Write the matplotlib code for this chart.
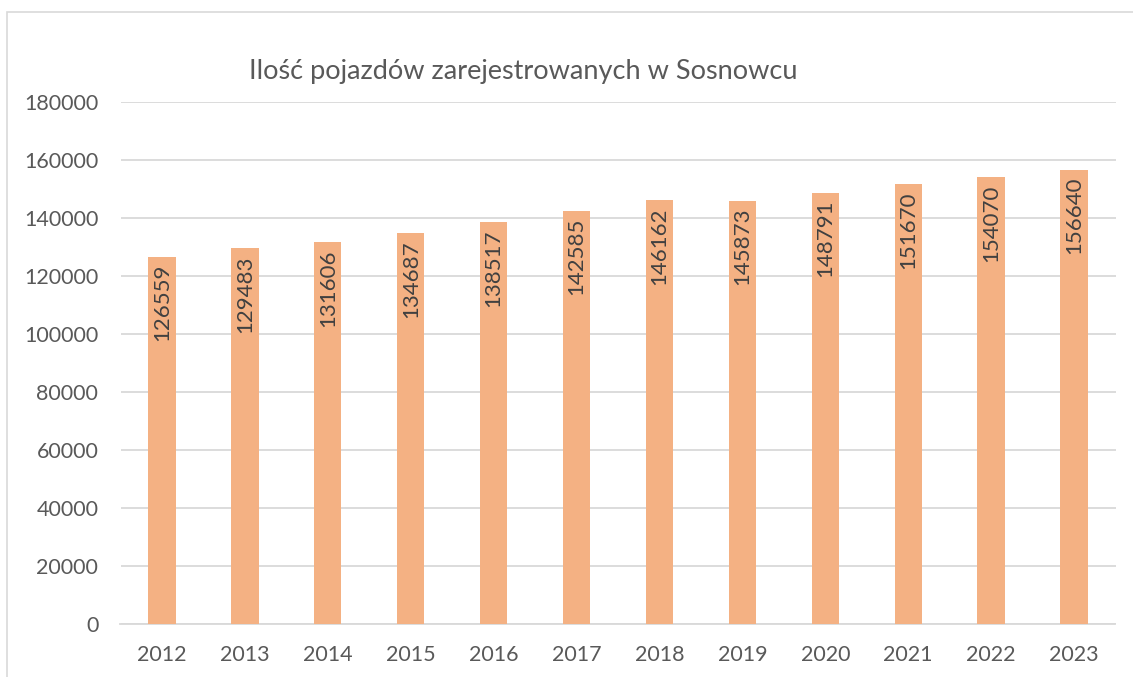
import matplotlib
matplotlib.use("Agg")
import matplotlib.pyplot as plt
from matplotlib.patches import Rectangle

years = ["2012", "2013", "2014", "2015", "2016", "2017",
         "2018", "2019", "2020", "2021", "2022", "2023"]
vehicles = [126559, 129483, 131606, 134687, 138517, 142585,
            146162, 145873, 148791, 151670, 154070, 156640]
y_ticks = [0, 20000, 40000, 60000, 80000, 100000,
           120000, 140000, 160000, 180000]
title = "Ilość pojazdów zarejestrowanych w Sosnowcu"

text_color = "#595959"
bar_color = "#F4B183"
grid_color = "#d9d9d9"

plt.rcParams['font.family'] = ['Lato', 'DejaVu Sans']

W, H = 1133, 677
fig = plt.figure(figsize=(W / 100, H / 100), dpi=100)

# outer chart frame (runs off the right and bottom edges)
fig.patches.append(Rectangle((7 / W, -0.1), 1.2, 1 - 12 / H + 0.1,
                             transform=fig.transFigure, fill=False,
                             edgecolor=grid_color, linewidth=1.2))

ax = fig.add_axes([120.5 / W, 1 - 624 / H, 995 / W, 522 / H])

x = range(len(years))
bars = ax.bar(x, vehicles, width=0.33, color=bar_color, zorder=3)

for rect, v in zip(bars, vehicles):
    ax.annotate(str(v), (rect.get_x() + rect.get_width() / 2, v),
                xytext=(0, -5), textcoords="offset points",
                rotation=90, ha="center", va="top",
                fontsize=16, color="#404040", zorder=4)

ax.set_xlim(-0.5, len(years) - 0.5)
ax.set_ylim(0, 180000)
ax.set_yticks(y_ticks)
ax.set_yticklabels([str(t) for t in y_ticks])
ax.set_xticks(list(x))
ax.set_xticklabels(years)
ax.tick_params(axis="both", length=0, labelsize=15.5, colors=text_color)
ax.tick_params(axis="y", pad=16)
ax.tick_params(axis="x", pad=15)

ax.grid(axis="y", color=grid_color, linewidth=1.3, zorder=0)
for side in ["top", "right", "left"]:
    ax.spines[side].set_visible(False)
ax.spines["bottom"].set_color(grid_color)
ax.spines["bottom"].set_linewidth(1.3)

fig.text(523 / W, 1 - 72 / H, title, ha="center", va="center",
         fontsize=19.5, color=text_color)

fig.savefig("out.png", dpi=100)
